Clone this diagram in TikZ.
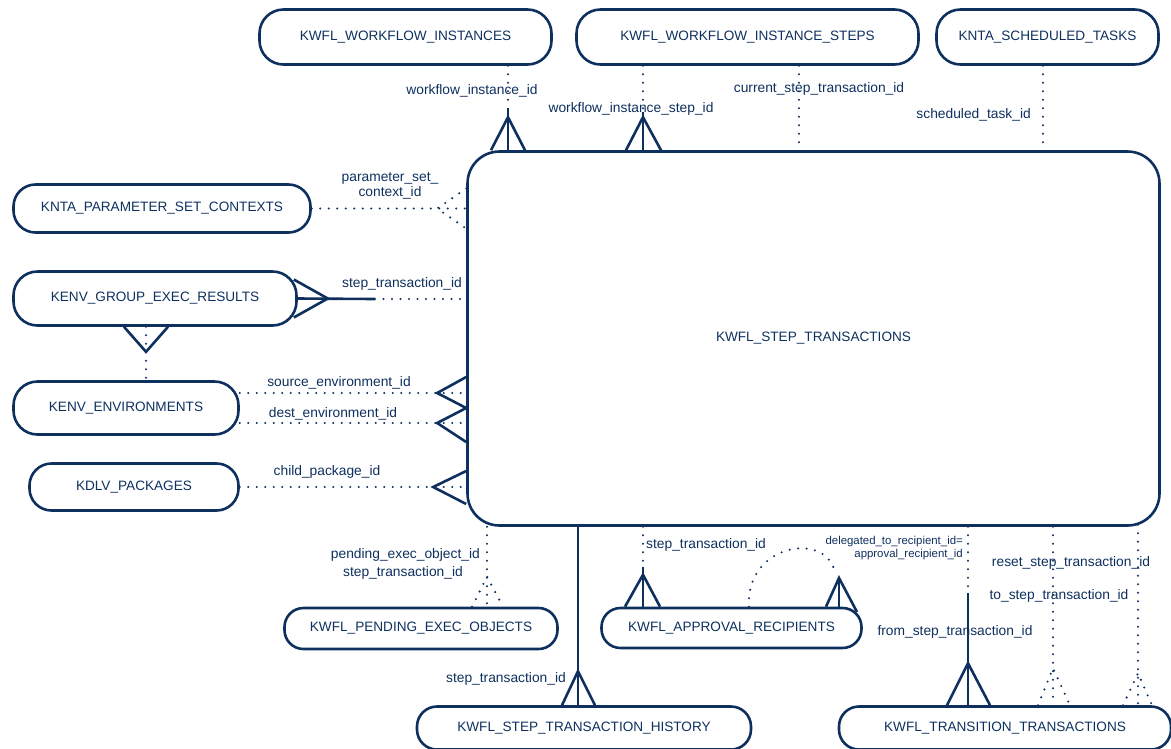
\documentclass[tikz,border=0pt]{standalone}
\usepackage{fontspec}
\setmainfont{Liberation Sans}
\usepackage{tikz}
\usetikzlibrary{calc}
\definecolor{erblu}{RGB}{14,48,94}
\newcommand{\fontent}{\fontsize{13.6}{15}\selectfont}
\newcommand{\fontrel}{\fontsize{13.8}{15}\selectfont}
\newcommand{\fontpic}{\fontsize{11.4}{12.8}\selectfont}

\begin{document}
\begin{tikzpicture}[x = 1pt, y = -1pt,
    entita/.style = {draw = erblu, line width = 2.6pt, rounded corners = 24pt, text = erblu, font = \fontent, inner sep = 0pt},
    obblig/.style = {draw = erblu, line width = 2.6pt},
    opz/.style = {draw = erblu, line width = 2.3pt, line cap = round, dash pattern = on 0pt off 8.5pt},
    etich/.style = {text = erblu, font = \fontrel, inner sep = 0pt}]
    % Cornice
    \useasboundingbox (0,0) rectangle (1171,748);
    \clip (0,0) rectangle (1171,748);
    % Entita
    \node[entita, minimum width = 292, minimum height = 55] (wfi) at (405.5,37) {KWFL\_WORKFLOW\_INSTANCES};
    \node[entita, minimum width = 342, minimum height = 55] (wis) at (747.5,37) {KWFL\_WORKFLOW\_INSTANCE\_STEPS};
    \node[entita, minimum width = 222, minimum height = 55] (nst) at (1047.5,37) {KNTA\_SCHEDULED\_TASKS};
    \node[entita, minimum width = 297, minimum height = 48, rounded corners = 22pt] (psc) at (162,208.5) {KNTA\_PARAMETER\_SET\_CONTEXTS};
    \node[entita, minimum width = 283, minimum height = 54] (ger) at (155,298.5) {KENV\_GROUP\_EXEC\_RESULTS};
    \node[entita, minimum width = 225, minimum height = 53] (env) at (126,408) {KENV\_ENVIRONMENTS};
    \node[entita, minimum width = 209, minimum height = 47, rounded corners = 22pt] (pkg) at (134,487) {KDLV\_PACKAGES};
    \node[entita, minimum width = 692, minimum height = 374, rounded corners = 32pt] (main) at (813.5,338.5) {KWFL\_STEP\_TRANSACTIONS};
    \node[entita, minimum width = 273, minimum height = 41, rounded corners = 19pt] (peo) at (421,628.5) {KWFL\_PENDING\_EXEC\_OBJECTS};
    \node[entita, minimum width = 260, minimum height = 40, rounded corners = 19pt] (apr) at (731.5,628) {KWFL\_APPROVAL\_RECIPIENTS};
    \node[entita, minimum width = 334, minimum height = 43, rounded corners = 20pt] (his) at (584,728) {KWFL\_STEP\_TRANSACTION\_HISTORY};
    \node[entita, minimum width = 332, minimum height = 43, rounded corners = 20pt] (trn) at (1005,728) {KWFL\_TRANSITION\_TRANSACTIONS};
    % Punti di passaggio
    \coordinate (mWfi) at (508,108);
    \coordinate (mWis) at (643,112);
    \coordinate (xCur) at (799,0);
    \coordinate (xSch) at (1043,0);
    \coordinate (mGer) at (375,299);
    \coordinate (xGe) at (146,0);
    \coordinate (ySrc) at (0,393);
    \coordinate (yDst) at (0,423);
    \coordinate (xPeo) at (487,0);
    \coordinate (xHis) at (578,0);
    \coordinate (mApr) at (643,562);
    \coordinate (aSx) at (749,0);
    \coordinate (aDx) at (839,578);
    \coordinate (mFrm) at (968,593);
    \coordinate (xRst) at (1053,0);
    \coordinate (xTo) at (1138,0);
    % Relazioni in alto
    \draw[opz] (wfi.south -| mWfi) -- (mWfi);
    \draw[obblig] (mWfi) -- (main.north -| mWfi);
    \draw[obblig] (main.north -| mWfi) ++(-17,0) -- ++(17,-33) -- ++(17,33);
    \draw[opz] (wis.south -| mWis) -- (mWis);
    \draw[obblig] (mWis) -- (main.north -| mWis);
    \draw[obblig] (main.north -| mWis) ++(-17,0) -- ++(17,-33) -- ++(18,33);
    \draw[opz] (wis.south -| xCur) -- (main.north -| xCur);
    \draw[opz] (nst.south -| xSch) -- ($(main.north -| xSch)+(0,-6)$);
    \node[etich] (lWfi) at (472,91) {workflow\_instance\_id};
    \node[etich] (lWis) at (631,109) {workflow\_instance\_step\_id};
    \node[etich] (lCur) at (819,89) {current\_step\_transaction\_id};
    \node[etich, anchor = east] (lSch) at (1031,115) {scheduled\_task\_id};
    % Relazioni a sinistra
    \draw[opz] (psc.east) -- (main.west |- psc.east);
    \draw[opz] (main.west |- psc.east) ++(0,-20) -- ++(-29,20) -- ++(29,20);
    \node[etich, align = center] (lPsc) at (390,186) {parameter\_set\_\\context\_id};
    \draw[obblig] (ger.east) -- (mGer);
    \draw[opz] (mGer) -- (main.west |- mGer);
    \draw[obblig] (ger.east) ++(-4,-19) -- ++(34,19) -- ++(-34,19);
    \node[etich] (lGer) at (402,284) {step\_transaction\_id};
    \draw[opz] (ger.south -| xGe) -- (env.north -| xGe);
    \draw[obblig] (ger.south -| xGe) ++(-22,0) -- ++(22,25) -- ++(22,-25);
    \draw[opz] (env.east |- ySrc) -- (main.west |- ySrc);
    \draw[obblig] (main.west |- ySrc) ++(0,-16) -- ++(-29,16) -- ++(29,15);
    \draw[opz] (env.east |- yDst) -- (main.west |- yDst);
    \draw[obblig] (main.west |- yDst) ++(0,-15) -- ++(-29,15) -- ++(29,19);
    \draw[opz] (pkg.east) -- (main.west |- pkg.east);
    \draw[obblig] (main.west |- pkg.east) ++(0,-16) -- ++(-33,16) -- ++(33,17);
    \node[etich] (lSrc) at (339,383) {source\_environment\_id};
    \node[etich] (lDst) at (333,414) {dest\_environment\_id};
    \node[etich] (lPkg) at (327,472) {child\_package\_id};
    % Relazioni in basso
    \draw[opz] (main.south -| xPeo) -- (peo.north -| xPeo);
    \draw[opz] (peo.north -| xPeo) ++(-15,0) -- ++(15,-30) -- ++(16,30);
    \node[etich, anchor = east] (lPeo) at (480,555) {pending\_exec\_object\_id};
    \node[etich, anchor = east] (lPeo2) at (463,573) {step\_transaction\_id};
    \draw[obblig] (main.south -| xHis) -- (his.north -| xHis);
    \draw[obblig] (his.north -| xHis) ++(-16,0) -- ++(16,-34) -- ++(17,34);
    \node[etich, anchor = east] (lHis) at (566,679) {step\_transaction\_id};
    \draw[opz] (main.south -| mApr) -- (mApr);
    \draw[obblig] ($(mApr)+(0,5)$) -- (apr.north -| mApr);
    \draw[obblig] (apr.north -| mApr) ++(-18,0) -- ++(18,-32) -- ++(17,32);
    \node[etich, anchor = west] (lApr) at (646,545) {step\_transaction\_id};
    \draw[opz] (apr.north -| aSx) .. controls (745,545) and (825,530) .. ($(aDx)+(-4,-6)$);
    \draw[obblig] (aDx) -- (apr.north -| aDx);
    \draw[obblig] (apr.north -| aDx) ++(-13,0) -- (aDx) -- ++(18,34);
    \node[text = erblu, font = \fontpic, inner sep = 0pt, align = right, anchor = east] (lDel) at (963,548) {delegated\_to\_recipient\_id=\\approval\_recipient\_id};
    \draw[opz] (main.south -| mFrm) -- (mFrm);
    \draw[obblig] (mFrm) -- (trn.north -| mFrm);
    \draw[obblig] (trn.north -| mFrm) ++(-21,0) -- ++(21,-42) -- ++(22,42);
    \node[etich] (lFrm) at (955,632) {from\_step\_transaction\_id};
    \draw[opz] (main.south -| xRst) -- (trn.north -| xRst);
    \draw[opz] (trn.north -| xRst) ++(-15,0) -- ++(15,-37) -- ++(17,37);
    \draw[opz] ($(main.south -| xTo)+(0,-2)$) -- (trn.north -| xTo);
    \draw[opz] (trn.north -| xTo) ++(-15,0) -- ++(15,-32) -- ++(14,32);
    \node[etich] (lRst) at (1071,563) {reset\_step\_transaction\_id};
    \node[etich] (lTo) at (1059,596) {to\_step\_transaction\_id};
\end{tikzpicture}
\end{document}
